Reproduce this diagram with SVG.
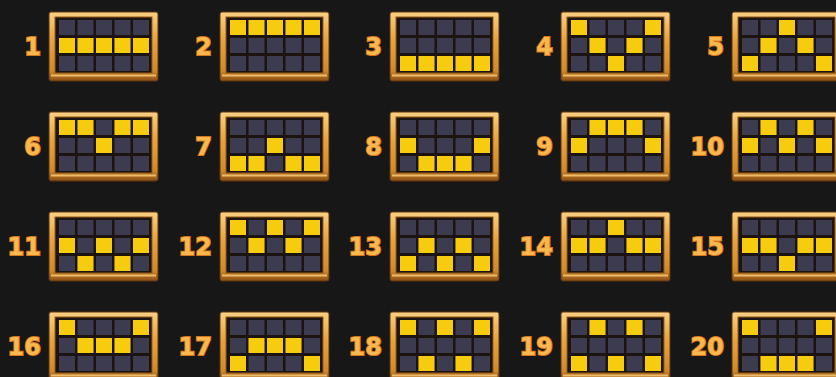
<svg xmlns="http://www.w3.org/2000/svg" xmlns:xlink="http://www.w3.org/1999/xlink" width="836" height="377" viewBox="0 0 836 377">
<style>
.num{font-family:"DejaVu Sans","Liberation Sans",sans-serif;font-weight:bold;font-size:24px;fill:#f8b850;stroke:#d8741a;stroke-width:2;paint-order:stroke;text-anchor:end}
.off{fill:#3d3b50}
.on{fill:#f8cc0e}
</style>
<defs>
<linearGradient id="gold" x1="0" y1="0" x2="0" y2="1">
<stop offset="0" stop-color="#f8d085"/>
<stop offset="0.4" stop-color="#e6a440"/>
<stop offset="0.85" stop-color="#d08a2a"/>
<stop offset="1" stop-color="#8a4e14"/>
</linearGradient>
<g id="board">
<rect x="0" y="0" width="109" height="69" rx="2" fill="url(#gold)" stroke="#5e3510" stroke-width="1"/>
<rect x="2" y="62.5" width="105" height="2" fill="#f6c878" opacity="0.85"/>
<rect x="6" y="5" width="97" height="56" fill="#1b1411" stroke="#9a5c18" stroke-width="1"/>
<g class="off">
<rect x="10" y="8" width="16" height="15"/><rect x="28.5" y="8" width="16" height="15"/><rect x="47" y="8" width="16" height="15"/><rect x="65.5" y="8" width="16" height="15"/><rect x="84" y="8" width="16" height="15"/>
<rect x="10" y="26" width="16" height="15"/><rect x="28.5" y="26" width="16" height="15"/><rect x="47" y="26" width="16" height="15"/><rect x="65.5" y="26" width="16" height="15"/><rect x="84" y="26" width="16" height="15"/>
<rect x="10" y="44" width="16" height="15"/><rect x="28.5" y="44" width="16" height="15"/><rect x="47" y="44" width="16" height="15"/><rect x="65.5" y="44" width="16" height="15"/><rect x="84" y="44" width="16" height="15"/>
</g>
</g>
</defs>
<rect x="0" y="0" width="836" height="377" fill="#171717"/>

<g id="line-1"><text class="num" x="41" y="55">1</text><g transform="translate(49,12)"><use xlink:href="#board"/><g class="on"><rect x="10" y="26" width="16" height="15"/><rect x="28.5" y="26" width="16" height="15"/><rect x="47" y="26" width="16" height="15"/><rect x="65.5" y="26" width="16" height="15"/><rect x="84" y="26" width="16" height="15"/></g></g></g>
<g id="line-2"><text class="num" x="212" y="55">2</text><g transform="translate(220,12)"><use xlink:href="#board"/><g class="on"><rect x="10" y="8" width="16" height="15"/><rect x="28.5" y="8" width="16" height="15"/><rect x="47" y="8" width="16" height="15"/><rect x="65.5" y="8" width="16" height="15"/><rect x="84" y="8" width="16" height="15"/></g></g></g>
<g id="line-3"><text class="num" x="382" y="55">3</text><g transform="translate(390,12)"><use xlink:href="#board"/><g class="on"><rect x="10" y="44" width="16" height="15"/><rect x="28.5" y="44" width="16" height="15"/><rect x="47" y="44" width="16" height="15"/><rect x="65.5" y="44" width="16" height="15"/><rect x="84" y="44" width="16" height="15"/></g></g></g>
<g id="line-4"><text class="num" x="553" y="55">4</text><g transform="translate(561,12)"><use xlink:href="#board"/><g class="on"><rect x="10" y="8" width="16" height="15"/><rect x="28.5" y="26" width="16" height="15"/><rect x="47" y="44" width="16" height="15"/><rect x="65.5" y="26" width="16" height="15"/><rect x="84" y="8" width="16" height="15"/></g></g></g>
<g id="line-5"><text class="num" x="724" y="55">5</text><g transform="translate(732,12)"><use xlink:href="#board"/><g class="on"><rect x="10" y="44" width="16" height="15"/><rect x="28.5" y="26" width="16" height="15"/><rect x="47" y="8" width="16" height="15"/><rect x="65.5" y="26" width="16" height="15"/><rect x="84" y="44" width="16" height="15"/></g></g></g>

<g id="line-6"><text class="num" x="41" y="155">6</text><g transform="translate(49,112)"><use xlink:href="#board"/><g class="on"><rect x="10" y="8" width="16" height="15"/><rect x="28.5" y="8" width="16" height="15"/><rect x="47" y="26" width="16" height="15"/><rect x="65.5" y="8" width="16" height="15"/><rect x="84" y="8" width="16" height="15"/></g></g></g>
<g id="line-7"><text class="num" x="212" y="155">7</text><g transform="translate(220,112)"><use xlink:href="#board"/><g class="on"><rect x="10" y="44" width="16" height="15"/><rect x="28.5" y="44" width="16" height="15"/><rect x="47" y="26" width="16" height="15"/><rect x="65.5" y="44" width="16" height="15"/><rect x="84" y="44" width="16" height="15"/></g></g></g>
<g id="line-8"><text class="num" x="382" y="155">8</text><g transform="translate(390,112)"><use xlink:href="#board"/><g class="on"><rect x="10" y="26" width="16" height="15"/><rect x="28.5" y="44" width="16" height="15"/><rect x="47" y="44" width="16" height="15"/><rect x="65.5" y="44" width="16" height="15"/><rect x="84" y="26" width="16" height="15"/></g></g></g>
<g id="line-9"><text class="num" x="553" y="155">9</text><g transform="translate(561,112)"><use xlink:href="#board"/><g class="on"><rect x="10" y="26" width="16" height="15"/><rect x="28.5" y="8" width="16" height="15"/><rect x="47" y="8" width="16" height="15"/><rect x="65.5" y="8" width="16" height="15"/><rect x="84" y="26" width="16" height="15"/></g></g></g>
<g id="line-10"><text class="num" x="724" y="155">10</text><g transform="translate(732,112)"><use xlink:href="#board"/><g class="on"><rect x="10" y="26" width="16" height="15"/><rect x="28.5" y="8" width="16" height="15"/><rect x="47" y="26" width="16" height="15"/><rect x="65.5" y="8" width="16" height="15"/><rect x="84" y="26" width="16" height="15"/></g></g></g>

<g id="line-11"><text class="num" x="41" y="255">11</text><g transform="translate(49,212)"><use xlink:href="#board"/><g class="on"><rect x="10" y="26" width="16" height="15"/><rect x="28.5" y="44" width="16" height="15"/><rect x="47" y="26" width="16" height="15"/><rect x="65.5" y="44" width="16" height="15"/><rect x="84" y="26" width="16" height="15"/></g></g></g>
<g id="line-12"><text class="num" x="212" y="255">12</text><g transform="translate(220,212)"><use xlink:href="#board"/><g class="on"><rect x="10" y="8" width="16" height="15"/><rect x="28.5" y="26" width="16" height="15"/><rect x="47" y="8" width="16" height="15"/><rect x="65.5" y="26" width="16" height="15"/><rect x="84" y="8" width="16" height="15"/></g></g></g>
<g id="line-13"><text class="num" x="382" y="255">13</text><g transform="translate(390,212)"><use xlink:href="#board"/><g class="on"><rect x="10" y="44" width="16" height="15"/><rect x="28.5" y="26" width="16" height="15"/><rect x="47" y="44" width="16" height="15"/><rect x="65.5" y="26" width="16" height="15"/><rect x="84" y="44" width="16" height="15"/></g></g></g>
<g id="line-14"><text class="num" x="553" y="255">14</text><g transform="translate(561,212)"><use xlink:href="#board"/><g class="on"><rect x="10" y="26" width="16" height="15"/><rect x="28.5" y="26" width="16" height="15"/><rect x="47" y="8" width="16" height="15"/><rect x="65.5" y="26" width="16" height="15"/><rect x="84" y="26" width="16" height="15"/></g></g></g>
<g id="line-15"><text class="num" x="724" y="255">15</text><g transform="translate(732,212)"><use xlink:href="#board"/><g class="on"><rect x="10" y="26" width="16" height="15"/><rect x="28.5" y="26" width="16" height="15"/><rect x="47" y="44" width="16" height="15"/><rect x="65.5" y="26" width="16" height="15"/><rect x="84" y="26" width="16" height="15"/></g></g></g>

<g id="line-16"><text class="num" x="41" y="355">16</text><g transform="translate(49,312)"><use xlink:href="#board"/><g class="on"><rect x="10" y="8" width="16" height="15"/><rect x="28.5" y="26" width="16" height="15"/><rect x="47" y="26" width="16" height="15"/><rect x="65.5" y="26" width="16" height="15"/><rect x="84" y="8" width="16" height="15"/></g></g></g>
<g id="line-17"><text class="num" x="212" y="355">17</text><g transform="translate(220,312)"><use xlink:href="#board"/><g class="on"><rect x="10" y="44" width="16" height="15"/><rect x="28.5" y="26" width="16" height="15"/><rect x="47" y="26" width="16" height="15"/><rect x="65.5" y="26" width="16" height="15"/><rect x="84" y="44" width="16" height="15"/></g></g></g>
<g id="line-18"><text class="num" x="382" y="355">18</text><g transform="translate(390,312)"><use xlink:href="#board"/><g class="on"><rect x="10" y="8" width="16" height="15"/><rect x="28.5" y="44" width="16" height="15"/><rect x="47" y="8" width="16" height="15"/><rect x="65.5" y="44" width="16" height="15"/><rect x="84" y="8" width="16" height="15"/></g></g></g>
<g id="line-19"><text class="num" x="553" y="355">19</text><g transform="translate(561,312)"><use xlink:href="#board"/><g class="on"><rect x="10" y="44" width="16" height="15"/><rect x="28.5" y="8" width="16" height="15"/><rect x="47" y="44" width="16" height="15"/><rect x="65.5" y="8" width="16" height="15"/><rect x="84" y="44" width="16" height="15"/></g></g></g>
<g id="line-20"><text class="num" x="724" y="355">20</text><g transform="translate(732,312)"><use xlink:href="#board"/><g class="on"><rect x="10" y="8" width="16" height="15"/><rect x="28.5" y="44" width="16" height="15"/><rect x="47" y="44" width="16" height="15"/><rect x="65.5" y="44" width="16" height="15"/><rect x="84" y="8" width="16" height="15"/></g></g></g>
</svg>
